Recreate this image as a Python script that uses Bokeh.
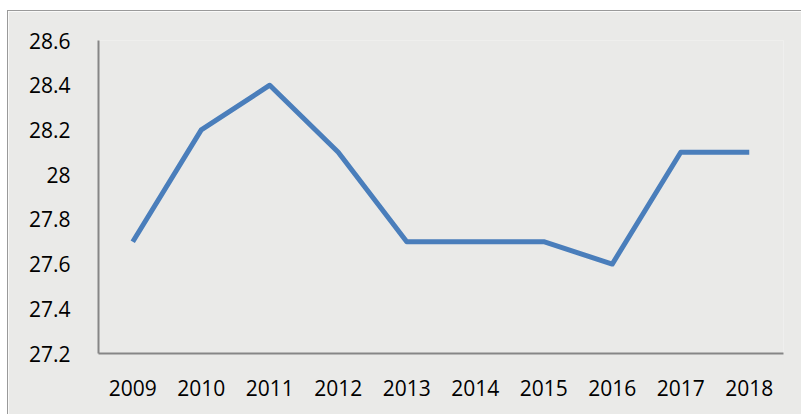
from bokeh.plotting import figure
from bokeh.models import FactorRange, Range1d, FixedTicker, CustomJSTickFormatter
from bokeh.embed import file_html
from bokeh.resources import INLINE

years = ["2009", "2010", "2011", "2012", "2013", "2014", "2015", "2016", "2017", "2018"]
values = [27.7, 28.2, 28.4, 28.1, 27.7, 27.7, 27.7, 27.6, 28.1, 28.1]
y_ticks = [27.2, 27.4, 27.6, 27.8, 28.0, 28.2, 28.4, 28.6]

bg = "#eaeae8"
p = figure(width=793, height=403, output_backend="svg", toolbar_location=None,
           x_range=FactorRange(*years, range_padding=0),
           y_range=Range1d(27.2, 28.6),
           background_fill_color=bg, border_fill_color=bg,
           min_border_left=90, min_border_right=18, min_border_top=29, min_border_bottom=61)
p.margin = (11, 0, 0, 8)
p.styles = {"outline": "1px solid #9a9a9a"}

p.line(years, values, line_color="#4a7ebb", line_width=5, line_join="round")

p.xgrid.visible = False
p.ygrid.visible = False
p.outline_line_color = None

for ax in (p.xaxis[0], p.yaxis[0]):
    ax.axis_line_color = "#868686"
    ax.axis_line_width = 2
    ax.major_tick_line_color = None
    ax.minor_tick_line_color = None
    ax.major_label_text_font = "Open Sans"
    ax.major_label_text_font_size = "21px"
    ax.major_label_text_color = "#000000"

p.yaxis[0].ticker = FixedTicker(ticks=y_ticks)
p.yaxis[0].formatter = CustomJSTickFormatter(code="return Number(tick.toFixed(1)).toString();")
p.yaxis[0].major_label_standoff = 22
p.xaxis[0].major_label_standoff = 20

open("out.html", "w").write(file_html(p, INLINE))
